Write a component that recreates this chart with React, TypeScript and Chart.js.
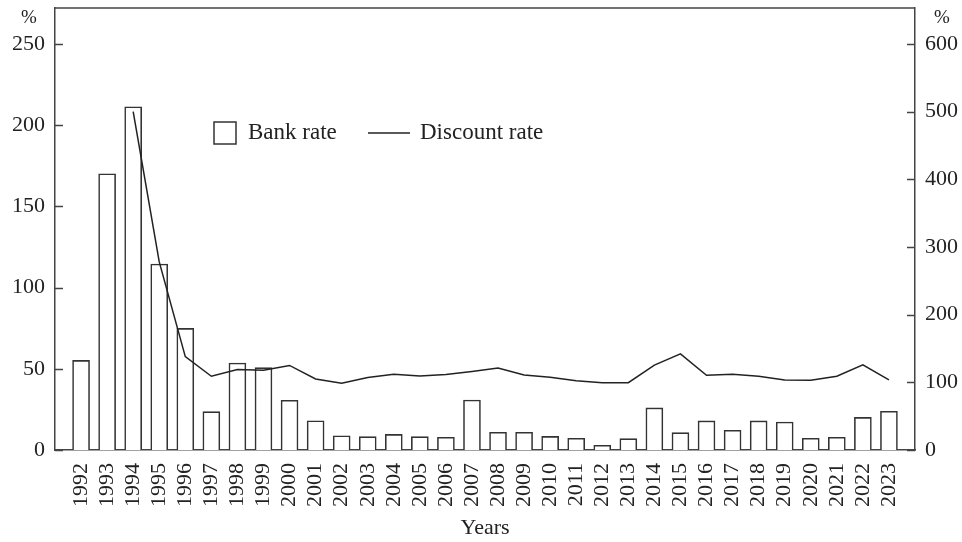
import React, { useEffect, useRef } from "react";
import { Chart, registerables } from "chart.js";

Chart.register(...registerables);

const years = [1992, 1993, 1994, 1995, 1996, 1997, 1998, 1999, 2000, 2001, 2002, 2003, 2004, 2005, 2006, 2007,
  2008, 2009, 2010, 2011, 2012, 2013, 2014, 2015, 2016, 2017, 2018, 2019, 2020, 2021, 2022, 2023];

const bankRate = [55.2, 170.1, 211.4, 114.5, 74.9, 23.6, 53.6, 50.7, 30.6, 18.0, 8.8, 8.2, 9.6, 8.2, 7.8, 30.8,
  10.9, 10.9, 8.4, 7.2, 2.9, 7.0, 25.9, 10.7, 17.9, 12.1, 17.9, 17.2, 7.2, 7.8, 20.1, 23.8];

const discountRate = [null, null, 500, 278, 138, 109, 119, 118, 125, 105, 98.5, 107, 112, 109.5, 111.5, 116,
  121, 111, 107.5, 102.5, 99.5, 99.5, 125.5, 142, 110.5, 112, 109, 103.5, 103, 109, 126, 103.5];

const leftTicks = [0, 50, 100, 150, 200, 250];
const rightTicks = [0, 100, 200, 300, 400, 500, 600];

const FONT = "'Liberation Serif', 'DejaVu Serif', serif";
const INK = "#222";
const AXIS = "#444";

const framePlugin = {
  id: "frame",
  afterDraw(chart: any) {
    const { ctx, chartArea } = chart;
    const { left, right, top } = chartArea;
    ctx.save();
    ctx.strokeStyle = AXIS;
    ctx.lineWidth = 1.5;
    ctx.beginPath();
    ctx.moveTo(left, top);
    ctx.lineTo(right, top);
    ctx.stroke();
    const y = chart.scales.y;
    const y1 = chart.scales.y1;
    ctx.beginPath();
    leftTicks.forEach((v) => {
      const p = Math.round(y.getPixelForValue(v)) + 0.5;
      ctx.moveTo(left, p);
      ctx.lineTo(left + 8, p);
    });
    rightTicks.forEach((v) => {
      const p = Math.round(y1.getPixelForValue(v)) + 0.5;
      ctx.moveTo(right - 8, p);
      ctx.lineTo(right, p);
    });
    ctx.stroke();
    // unit labels
    ctx.fillStyle = INK;
    ctx.font = `19px ${FONT}`;
    ctx.textAlign = "center";
    ctx.textBaseline = "middle";
    ctx.fillText("%", left - 26, top + 10);
    ctx.fillText("%", right + 27, top + 10);
    // legend
    const ds = chart.data.datasets;
    const lx = left + 159;
    const ly = top + 125;
    ctx.font = `23px ${FONT}`;
    ctx.textAlign = "left";
    ctx.strokeStyle = "#333";
    ctx.lineWidth = 1.5;
    ctx.strokeRect(lx, ly - 11, 22, 22);
    ctx.fillText(ds[1].label, lx + 34, ly);
    ctx.beginPath();
    ctx.moveTo(lx + 154, ly);
    ctx.lineTo(lx + 196, ly);
    ctx.strokeStyle = INK;
    ctx.stroke();
    ctx.fillText(ds[0].label, lx + 206, ly);
    ctx.restore();
  },
};

export default function App() {
  const ref = useRef<HTMLCanvasElement | null>(null);
  useEffect(() => {
    document.body.style.margin = "0";
    const canvas = ref.current!;
    const chart = new Chart(canvas, {
      type: "bar",
      data: {
        datasets: [
          {
            type: "line",
            label: "Discount rate",
            data: years.map((yr, i) => ({ x: yr, y: discountRate[i] })),
            yAxisID: "y1",
            borderColor: INK,
            borderWidth: 1.5,
            pointRadius: 0,
            tension: 0,
            spanGaps: false,
            order: 0,
          } as any,
          {
            type: "bar",
            label: "Bank rate",
            data: years.map((yr, i) => ({ x: yr, y: bankRate[i] })),
            yAxisID: "y",
            backgroundColor: "#fff",
            borderColor: "#333",
            borderWidth: 1.6,
            barThickness: 17,
            order: 1,
          } as any,
        ],
      },
      options: {
        responsive: false,
        animation: false,
        layout: { padding: { top: 8, left: 0, right: 0, bottom: 0 } },
        plugins: { legend: { display: false }, tooltip: { enabled: false } },
        scales: {
          x: {
            type: "linear",
            min: 1991,
            max: 2024,
            offset: false,
            grid: { display: false, drawTicks: false, offset: false },
            border: { display: true, color: AXIS, width: 1.5 },
            afterBuildTicks: (s: any) => {
              s.ticks = years.map((v) => ({ value: v }));
            },
            afterFit: (s: any) => {
              s.height = 92;
              s.paddingLeft = 0;
              s.paddingRight = 0;
            },
            ticks: {
              autoSkip: false,
              minRotation: 90,
              maxRotation: 90,
              padding: 13,
              color: INK,
              font: { family: FONT, size: 22 },
              callback: (v: any) => String(v),
            },
            title: {
              display: true,
              text: "Years",
              color: INK,
              font: { family: FONT, size: 22 },
              padding: { top: 0, bottom: 1 },
            },
          } as any,
          y: {
            type: "linear",
            position: "left",
            min: 0,
            max: 272.2,
            grid: { display: false, drawTicks: false },
            border: { display: true, color: AXIS, width: 1.5 },
            afterBuildTicks: (s: any) => {
              s.ticks = leftTicks.map((v) => ({ value: v }));
            },
            afterFit: (s: any) => {
              s.width = 55;
              s.paddingTop = 0;
              s.paddingBottom = 0;
            },
            ticks: { padding: 10, color: INK, font: { family: FONT, size: 22 } },
          } as any,
          y1: {
            type: "linear",
            position: "right",
            min: 0,
            max: 653.2,
            grid: { display: false, drawTicks: false },
            border: { display: true, color: AXIS, width: 1.5 },
            afterBuildTicks: (s: any) => {
              s.ticks = rightTicks.map((v) => ({ value: v }));
            },
            afterFit: (s: any) => {
              s.width = 47;
              s.paddingTop = 0;
              s.paddingBottom = 0;
            },
            ticks: { padding: 10, color: INK, font: { family: FONT, size: 22 } },
          } as any,
        },
      },
      plugins: [framePlugin],
    });
    return () => chart.destroy();
  }, []);
  return (
    <div style={{ position: "absolute", left: 0, top: 0, width: 962, height: 542, background: "#fff" }}>
      <canvas ref={ref} width={962} height={542} style={{ display: "block" }} />
    </div>
  );
}
